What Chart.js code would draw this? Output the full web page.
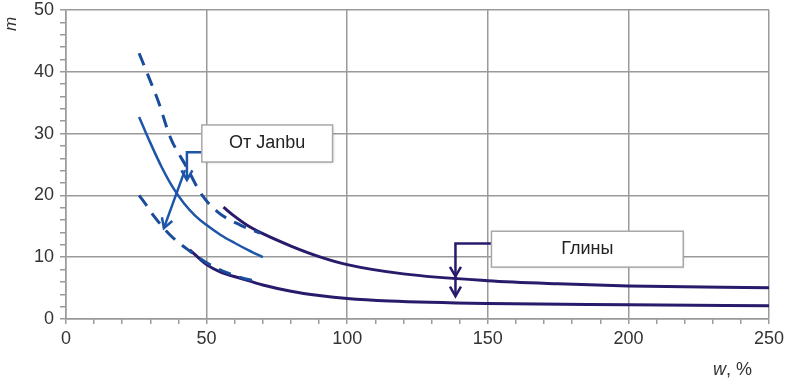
<!DOCTYPE html>
<html>
<head>
<meta charset="utf-8">
<script src="https://cdn.jsdelivr.net/npm/chart.js@4"></script>
<style>
  html, body { margin: 0; padding: 0; background: #ffffff; }
  #wrap { width: 789px; height: 382px; }
</style>
</head>
<body>
<div id="wrap"><canvas id="c" width="789" height="382"></canvas></div>
<script>
// ---- Data (w, % ; m) ----
const janbuSolidW   = [26, 30, 34, 38, 42, 46, 50, 55, 60, 65, 70];
const janbuSolidM   = [32.7, 28.5, 24.6, 21.3, 18.7, 16.7, 15.2, 13.6, 12.3, 11.1, 10.0];

const janbuUpperW   = [26, 30, 33, 37, 43, 48, 54, 62, 69];
const janbuUpperM   = [43.0, 38.5, 35.0, 29.5, 24.5, 20.3, 17.3, 15.2, 13.9];

const janbuLowerW   = [26, 28, 31, 37, 44, 51.5, 61.5, 69];
const janbuLowerM   = [20.0, 18.8, 16.8, 13.6, 11.0, 8.7, 6.8, 6.0];

const clayUpperW    = [56, 60, 65, 70, 80, 90, 100, 120, 150, 175, 200, 250];
const clayUpperM    = [18.1, 16.6, 15.0, 13.8, 11.8, 10.1, 8.8, 7.3, 6.2, 5.7, 5.35, 5.05];

const clayLowerW    = [44, 50, 55, 62, 70, 80, 90, 100, 115, 150, 200, 250];
const clayLowerM    = [11.2, 8.8, 7.6, 6.6, 5.5, 4.5, 3.8, 3.3, 2.9, 2.5, 2.3, 2.15];

const xTickLabels   = [0, 50, 100, 150, 200, 250];
const yTickLabels   = [0, 10, 20, 30, 40, 50];

const xAxisTitle = "w, %";
const yAxisTitle = "m";

// Annotation labels (text + box corners in data units)
const janbuLabel = "От Janbu";
const janbuBox   = [48.3, 31.4, 94.8, 25.4];   // x1, y1, x2, y2
const clayLabel  = "Глины";
const clayBox    = [151.3, 14.2, 219.5, 8.4];

// Connector paths (data units); last point is arrow tip
const janbuLead   = [[48.3, 27.0], [43.0, 27.0], [43.0, 22.5]];
const janbuLead2  = [[42.3, 24.1], [34.8, 14.7]];
const clayLead    = [[151.3, 12.2], [138.5, 12.2], [138.5, 3.7]];
const clayTip1    = [138.5, 6.9];

const toXY = (ws, ms) => ws.map((w, i) => ({ x: w, y: ms[i] }));

const BLUE = "#1d55a8";
const BLUE_D = "#1a4c9c";
const NAVY = "#2a1a6c";
const GRID = "#9a9a9a";
const FONT = "'Liberation Sans', Arial, sans-serif";

const annotPlugin = {
  id: "annot",
  afterDatasetsDraw(chart) {
    const { ctx, scales: { x, y } } = chart;
    const px = p => [x.getPixelForValue(p[0]), y.getPixelForValue(p[1])];

    function arrowHead(tip, from, color) {
      const ang = Math.atan2(tip[1] - from[1], tip[0] - from[0]);
      const L = 11, a = Math.PI / 6;
      ctx.beginPath();
      ctx.moveTo(tip[0] - L * Math.cos(ang - a), tip[1] - L * Math.sin(ang - a));
      ctx.lineTo(tip[0], tip[1]);
      ctx.lineTo(tip[0] - L * Math.cos(ang + a), tip[1] - L * Math.sin(ang + a));
      ctx.strokeStyle = color;
      ctx.stroke();
    }
    function lead(path, color) {
      const pts = path.map(px);
      ctx.save();
      ctx.lineWidth = 2.5;
      ctx.strokeStyle = color;
      ctx.beginPath();
      pts.forEach((p, i) => i ? ctx.lineTo(p[0], p[1]) : ctx.moveTo(p[0], p[1]));
      ctx.stroke();
      arrowHead(pts[pts.length - 1], pts[pts.length - 2], color);
      ctx.restore();
    }
    function box(b, text) {
      const [x1, y1] = px([b[0], b[1]]);
      const [x2, y2] = px([b[2], b[3]]);
      ctx.save();
      ctx.fillStyle = "#ffffff";
      ctx.shadowColor = "rgba(0,0,0,0.18)";
      ctx.shadowBlur = 3;
      ctx.shadowOffsetX = 1;
      ctx.shadowOffsetY = 1;
      ctx.fillRect(x1, y1, x2 - x1, y2 - y1);
      ctx.shadowColor = "transparent";
      ctx.strokeStyle = "#a8a8a8";
      ctx.lineWidth = 1.5;
      ctx.strokeRect(x1, y1, x2 - x1, y2 - y1);
      ctx.fillStyle = "#222";
      ctx.font = "18px " + FONT;
      ctx.textAlign = "center";
      ctx.textBaseline = "middle";
      ctx.fillText(text, (x1 + x2) / 2, (y1 + y2) / 2);
      ctx.restore();
    }

    lead(janbuLead, BLUE);
    lead(janbuLead2, BLUE);
    lead(clayLead, NAVY);
    ctx.save();
    ctx.lineWidth = 2.5;
    const t1 = px(clayTip1);
    arrowHead(t1, [t1[0], t1[1] - 20], NAVY);
    ctx.restore();

    box(janbuBox, janbuLabel);
    box(clayBox, clayLabel);

    // axis titles
    ctx.save();
    ctx.fillStyle = "#333";
    ctx.font = "italic 17px " + FONT;
    ctx.textAlign = "center";
    ctx.textBaseline = "middle";
    ctx.translate(11, 24);
    ctx.rotate(-Math.PI / 2);
    ctx.fillText(yAxisTitle, 0, 0);
    ctx.restore();

    ctx.save();
    ctx.fillStyle = "#333";
    ctx.textBaseline = "middle";
    ctx.textAlign = "left";
    const parts = xAxisTitle.split(",");
    ctx.font = "italic 18px " + FONT;
    const w1 = ctx.measureText(parts[0]).width;
    const sx = 713;
    ctx.fillText(parts[0], sx, 370);
    ctx.font = "18px " + FONT;
    ctx.fillText("," + parts[1], sx + w1, 370);
    ctx.restore();
  }
};

const lineDs = (label, ws, ms, color, dash, width) => ({
  label, data: toXY(ws, ms), borderColor: color, borderWidth: width,
  borderDash: dash, pointRadius: 0, fill: false,
  cubicInterpolationMode: "monotone", borderCapStyle: "butt"
});

new Chart(document.getElementById("c"), {
  type: "line",
  data: {
    datasets: [
      lineDs("Janbu upper", janbuUpperW, janbuUpperM, BLUE_D, [13, 9], 3),
      lineDs("Janbu lower", janbuLowerW, janbuLowerM, BLUE_D, [13, 9], 3),
      lineDs("Janbu", janbuSolidW, janbuSolidM, BLUE, [], 2.5),
      lineDs("Clay upper", clayUpperW, clayUpperM, NAVY, [], 3),
      lineDs("Clay lower", clayLowerW, clayLowerM, NAVY, [], 3)
    ]
  },
  options: {
    responsive: false,
    animation: false,
    events: [],
    layout: { padding: { top: 10, right: 20, left: 0, bottom: 0 } },
    plugins: { legend: { display: false }, tooltip: { enabled: false } },
    scales: {
      x: {
        type: "linear", min: 0, max: 250,
        afterFit: s => { s.height = 63; },
        border: { display: true, color: GRID, width: 1.5 },
        grid: {
          color: c => xTickLabels.includes(c.tick && c.tick.value) ? GRID : "rgba(0,0,0,0)",
          tickColor: GRID, lineWidth: 1.5, tickLength: 5, drawTicks: true
        },
        ticks: {
          stepSize: 10, autoSkip: false, maxRotation: 0, padding: 4,
          color: "#333", font: { family: FONT, size: 18 },
          callback: v => xTickLabels.includes(v) ? String(v) : ""
        }
      },
      y: {
        type: "linear", min: 0, max: 50,
        afterFit: s => { s.width = 66; s.paddingTop = 0; s.paddingBottom = 0; },
        border: { display: true, color: GRID, width: 1.5 },
        grid: {
          color: c => yTickLabels.includes(c.tick && c.tick.value) ? GRID : "rgba(0,0,0,0)",
          tickColor: GRID, lineWidth: 1.5, tickLength: 6, drawTicks: true
        },
        ticks: {
          stepSize: 2, autoSkip: false, padding: 6,
          color: "#333", font: { family: FONT, size: 18 },
          callback: v => yTickLabels.includes(v) ? String(v) : ""
        }
      }
    }
  },
  plugins: [annotPlugin]
});
</script>
</body>
</html>
